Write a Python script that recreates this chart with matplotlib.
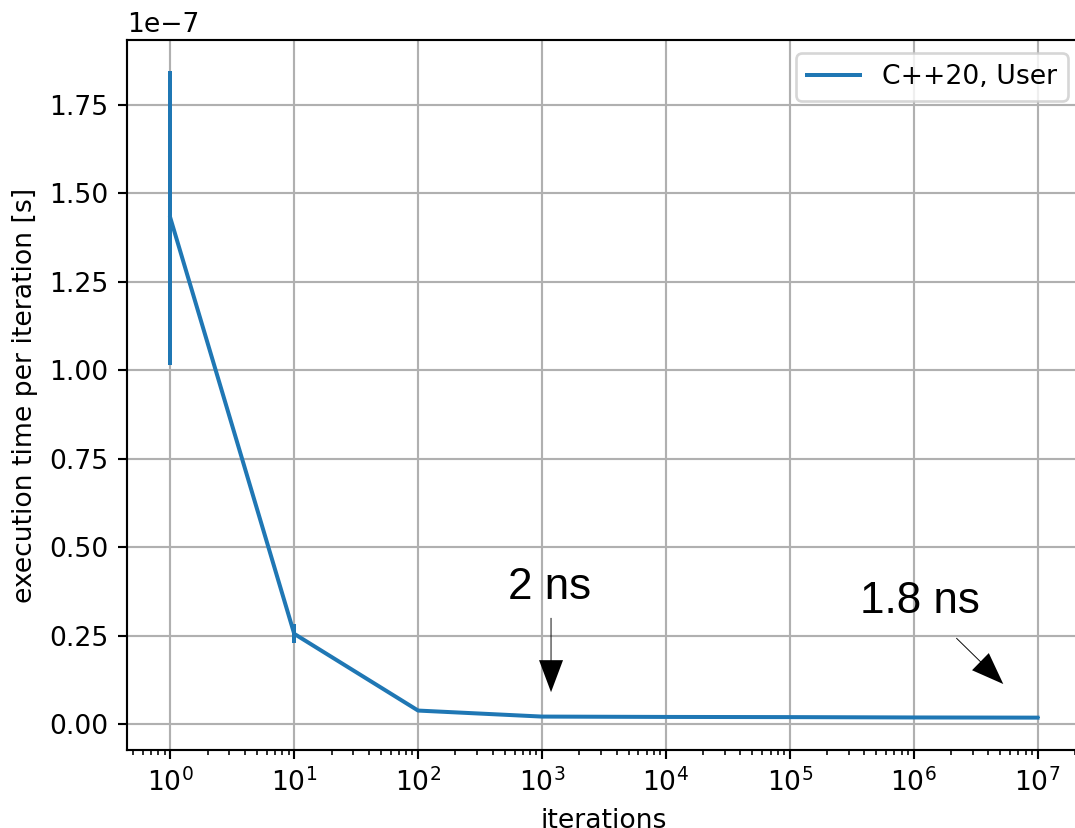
import matplotlib
matplotlib.use('Agg')
import matplotlib.pyplot as plt
import numpy as np

# Measured execution time per iteration (seconds)
iterations = [1, 10, 100, 1e3, 1e4, 1e5, 1e6, 1e7]
time_per_iter = [1.431e-7, 2.55e-8, 3.8e-9, 2.1e-9, 2.0e-9, 1.95e-9, 1.85e-9, 1.8e-9]
time_err = [4.15e-8, 2.7e-9, 1e-10, 5e-11, 5e-11, 5e-11, 5e-11, 5e-11]
series_label = "C++20, User"

# Annotations: (text, text pos, arrow tail, arrow tip)
notes = [
    ("2 ns", (535, 0.353e-7), (1183, 0.30e-7), (1183, 0.09e-7)),
    ("1.8 ns", (3.71e5, 0.314e-7), (2.21e6, 0.243e-7), (5.29e6, 0.113e-7)),
]

plt.rcParams['font.size'] = 10

dpi = 192
fig = plt.figure(figsize=(1075 / dpi, 828 / dpi), dpi=dpi)
ax = fig.add_axes([0.1181, 0.0942, 0.8874, 0.8575])

ax.plot(iterations, time_per_iter, color='#1f77b4', lw=1.5, label=series_label)
ax.errorbar(iterations, time_per_iter, yerr=time_err, color='#1f77b4',
            lw=1.5, fmt='none')
ax.set_xscale('log')
ax.set_xlim(10 ** -0.35, 10 ** 7.35)
ax.set_ylim(-0.0735e-7, 1.934e-7)
ax.grid(True)
ax.set_xlabel("iterations")
ax.set_ylabel("execution time per iteration [s]")
ax.legend(loc='upper right')

for text, txt_pos, tail, tip in notes:
    ax.annotate("", xy=tip, xytext=tail,
                arrowprops=dict(facecolor='black', edgecolor='none',
                                width=0.35, headwidth=9, headlength=12,
                                shrink=0))
    ax.text(txt_pos[0], txt_pos[1], text, fontsize=16.5,
            family='Liberation Sans', va='baseline', ha='left')

fig.savefig("out.png", dpi=dpi)
